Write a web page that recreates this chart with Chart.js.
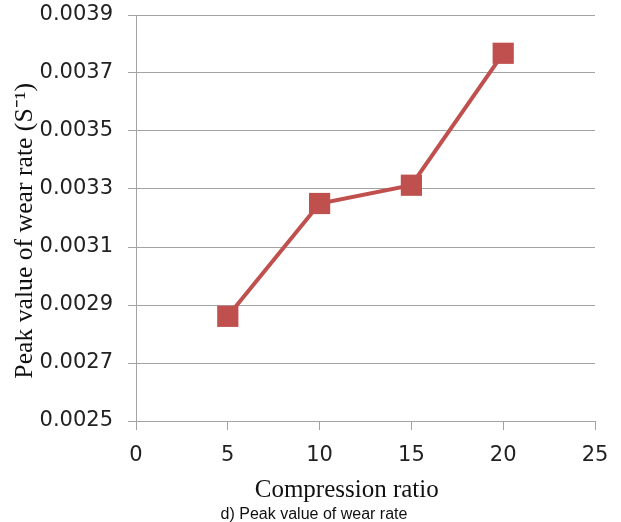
<!DOCTYPE html>
<html>
<head>
<meta charset="utf-8">
<script src="https://cdn.jsdelivr.net/npm/chart.js@4/dist/chart.umd.min.js"></script>
<style>
  html, body { margin: 0; padding: 0; background: #ffffff; }
  #wrap { width: 621px; height: 522px; position: relative; }
</style>
</head>
<body>
<div id="wrap"><canvas id="c" width="621" height="522"></canvas></div>
<script>
// ---- data ----
const compressionRatios = [5, 10, 15, 20];
const peakWearRate = [0.002861, 0.003250, 0.003313, 0.003768];
const xTickValues = [0, 5, 10, 15, 20, 25];
const yTickValues = [0.0025, 0.0027, 0.0029, 0.0031, 0.0033, 0.0035, 0.0037, 0.0039];
const xTitle = 'Compression ratio';
const yTitle = 'Peak value of wear rate (S\u207B\u00B9)';
const caption = 'd) Peak value of wear rate';

const points = compressionRatios.map((x, i) => ({ x: x, y: peakWearRate[i] }));
const red = '#C0504D';
const gridGray = '#a3a3a3';

const captionPlugin = {
  id: 'caption',
  afterDraw(chart) {
    const ctx = chart.ctx;
    ctx.save();
    ctx.font = '16px "Liberation Sans", Arial, sans-serif';
    ctx.fillStyle = '#111';
    ctx.textAlign = 'center';
    ctx.textBaseline = 'middle';
    ctx.fillText(caption, 314, 515);
    ctx.restore();
  }
};

new Chart(document.getElementById('c'), {
  type: 'line',
  data: {
    datasets: [{
      data: points,
      borderColor: red,
      backgroundColor: red,
      borderWidth: 4,
      pointStyle: 'rect',
      pointRadius: 15,
      pointHoverRadius: 15,
      pointBackgroundColor: red,
      pointBorderColor: red,
      pointBorderWidth: 0,
      tension: 0,
      clip: false
    }]
  },
  options: {
    responsive: false,
    animation: false,
    events: [],
    layout: { padding: { top: 15, right: 26, left: 0, bottom: 0 } },
    plugins: { legend: { display: false }, tooltip: { enabled: false }, title: { display: false } },
    scales: {
      x: {
        type: 'linear',
        min: xTickValues[0],
        max: xTickValues[xTickValues.length - 1],
        afterBuildTicks(scale) { scale.ticks = xTickValues.map(v => ({ value: v })); },
        afterFit(scale) { scale.height = 101; scale.paddingLeft = 0; scale.paddingRight = 0; },
        ticks: {
          color: '#222',
          font: { family: '"DejaVu Sans", sans-serif', size: 21 },
          padding: 13,
          maxRotation: 0,
          callback: v => String(v)
        },
        grid: { drawOnChartArea: false, drawTicks: true, tickLength: 9, color: gridGray, lineWidth: 1 },
        border: { display: true, color: gridGray, width: 1 },
        title: {
          display: true,
          text: xTitle + '      ',
          color: '#111',
          font: { family: '"Liberation Serif", "Times New Roman", serif', size: 25 },
          padding: { top: 0, bottom: 17 }
        }
      },
      y: {
        type: 'linear',
        min: yTickValues[0],
        max: yTickValues[yTickValues.length - 1],
        afterBuildTicks(scale) { scale.ticks = yTickValues.map(v => ({ value: v })); },
        afterFit(scale) { scale.width = 136; scale.paddingTop = 0; scale.paddingBottom = 0; },
        ticks: {
          color: '#222',
          font: { family: '"DejaVu Sans", sans-serif', size: 21 },
          padding: 15,
          callback: v => Number(v).toFixed(4)
        },
        grid: { drawOnChartArea: true, drawTicks: true, tickLength: 8, color: gridGray, lineWidth: 1 },
        border: { display: true, color: gridGray, width: 1 },
        title: {
          display: true,
          text: yTitle + '    ',
          color: '#111',
          font: { family: '"Liberation Serif", "Times New Roman", serif', size: 25.7 },
          padding: { top: 10, bottom: 0 }
        }
      }
    }
  },
  plugins: [captionPlugin]
});
</script>
</body>
</html>
